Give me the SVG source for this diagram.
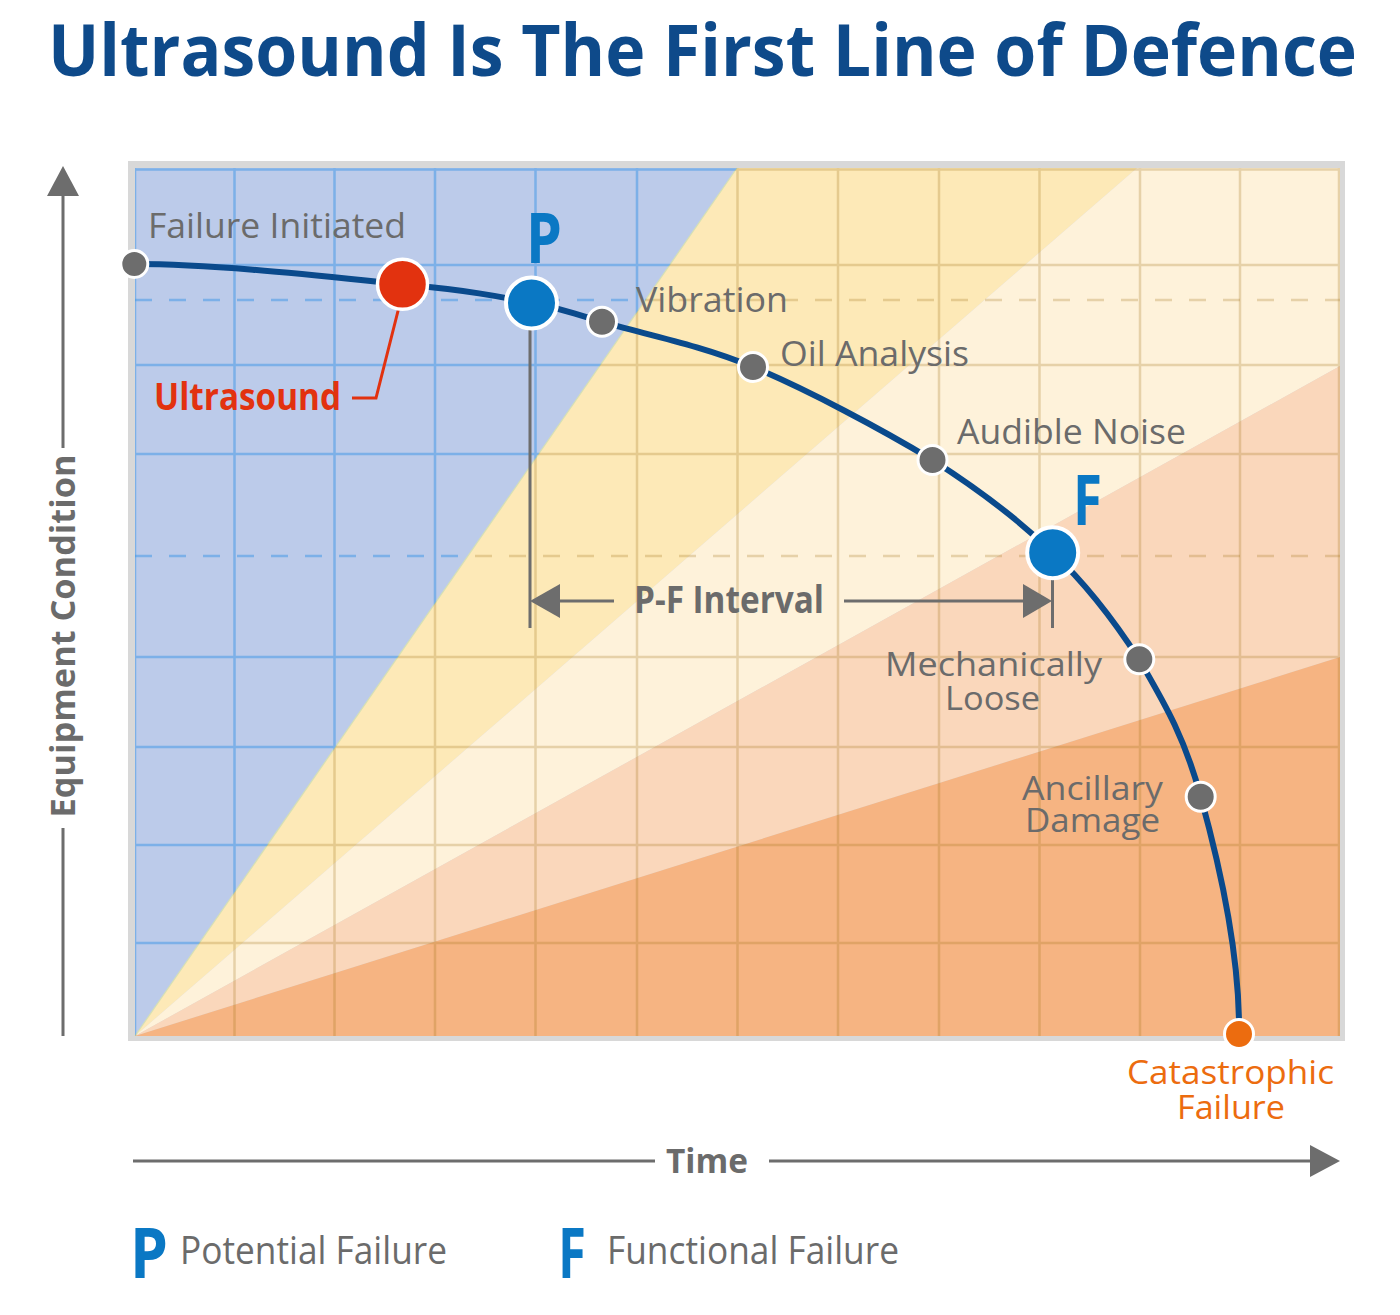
<svg xmlns="http://www.w3.org/2000/svg" xmlns:xlink="http://www.w3.org/1999/xlink" width="1400" height="1315" viewBox="0 0 1400 1315">
<style>
.lbl{font-family:"Open Sans","Noto Sans",sans-serif;font-size:35px;fill:#6b6b6b}
.two{font-size:33px}
.bold{font-family:"Open Sans","Noto Sans",sans-serif;font-weight:700}
.gray{fill:#6b6b6b}
.blue{fill:#0a78c4}
.dot{fill:#6d6d6d;stroke:#fff;stroke-width:3}
.axis{stroke:#6d6d6d;stroke-width:3;fill:none}
</style>
<defs>
<clipPath id="cb"><polygon points="135,168 737,168 135,1036"/></clipPath>
<clipPath id="ct"><polygon points="737,168 1340,168 1340,1036 135,1036"/></clipPath>
<g id="grid">
<path d="M135,168V1036M234.5,168V1036M334.5,168V1036M435,168V1036M535.5,168V1036M637,168V1036M737.5,168V1036M838,168V1036M939,168V1036M1039.5,168V1036M1140,168V1036M1240,168V1036M1339,168V1036M135,169.5H1340M135,265H1340M135,365H1340M135,454H1340M135,657H1340M135,747H1340M135,845H1340M135,943H1340" stroke-width="2.5"/>
<path d="M135,300H1340M135,556H1340" stroke-width="2.5" stroke-dasharray="17 17"/>
</g>
</defs>
<rect width="1400" height="1315" fill="#fff"/>
<text class="bold" x="48" y="76" font-size="71" fill="#0e4a8a" textLength="1309" lengthAdjust="spacingAndGlyphs">Ultrasound Is The First Line of Defence</text>
<g id="chart">
<rect x="128" y="161" width="1217" height="880" fill="#d8d8d8"/>
<polygon points="135,168 737,168 135,1036" fill="#bccbea"/>
<polygon points="737,168 1137,168 135,1036" fill="#fde9b7"/>
<polygon points="1137,168 1340,168 1340,366 135,1036" fill="#fef2da"/>
<polygon points="1340,366 1340,657 135,1036" fill="#fad7bb"/>
<polygon points="1340,657 1340,1036 135,1036" fill="#f6b482"/>
<line x1="135" y1="1036" x2="737" y2="168" stroke="#d6e0b4" stroke-width="1.2"/>
<use xlink:href="#grid" clip-path="url(#cb)" stroke="rgb(60,150,230)" stroke-opacity="0.5"/>
<use xlink:href="#grid" clip-path="url(#ct)" stroke="rgb(160,110,20)" stroke-opacity="0.25"/>
</g>
<g id="axes">
<path class="axis" d="M63,195V448M63,828V1036"/>
<polygon points="63,166 47,196 79,196" fill="#6d6d6d"/>
<text class="bold gray" font-size="34" text-anchor="middle" transform="translate(75,636) rotate(-90)" textLength="363" lengthAdjust="spacingAndGlyphs">Equipment Condition</text>
<path class="axis" d="M133,1161H655M769,1161H1312"/>
<polygon points="1340,1161 1310,1145 1310,1177" fill="#6d6d6d"/>
<text class="bold gray" x="666" y="1173" font-size="34" textLength="82" lengthAdjust="spacingAndGlyphs">Time</text>
</g>
<g id="connectors">
<path d="M134,264 C223,264 336,277.7 402.5,284.3 C468,290.5 498,296 531.5,303 C564,309 564,311 602,321.7 C638,333 698,344 753,367 C808,390 881,429 932.5,460 C981,491 1018,519 1052.7,552.7 C1087,585 1113,619 1139,659.3 C1163,701 1184,735 1200.7,796.7 C1218,859 1240,955 1239,1034" fill="none" stroke="#0a4a8c" stroke-width="6"/>
<path d="M352,398H376L399,307" fill="none" stroke="#e2320f" stroke-width="3"/>
<path class="axis" d="M530,320V628M1052.5,578V628M560,601H614M844,601H1024"/>
<polygon points="530,601 560,584 560,618" fill="#6d6d6d"/>
<polygon points="1052,601 1023,584 1023,618" fill="#6d6d6d"/>
<text class="bold gray" x="634" y="613" font-size="37" textLength="190" lengthAdjust="spacingAndGlyphs">P-F Interval</text>
</g>
<g id="n-start"><circle class="dot" cx="134.3" cy="264" r="13.5"/><text class="lbl" x="148" y="238" textLength="258" lengthAdjust="spacingAndGlyphs">Failure Initiated</text></g>
<g id="n-ultrasound"><circle cx="402.5" cy="284.3" r="25" fill="#e2320f" stroke="#fff" stroke-width="3.5"/><text class="bold" x="154" y="410" font-size="37" fill="#e2320f" textLength="187" lengthAdjust="spacingAndGlyphs">Ultrasound</text></g>
<g id="n-p"><circle cx="531.5" cy="303" r="25.5" fill="#0a78c4" stroke="#fff" stroke-width="4"/><text class="bold blue" x="526" y="263" font-size="70" textLength="36" lengthAdjust="spacingAndGlyphs">P</text></g>
<g id="n-vibration"><circle class="dot" cx="602" cy="321.7" r="14.5"/><text class="lbl" x="636" y="312" textLength="152" lengthAdjust="spacingAndGlyphs">Vibration</text></g>
<g id="n-oil"><circle class="dot" cx="753" cy="367" r="14.5"/><text class="lbl" x="780" y="366" textLength="189" lengthAdjust="spacingAndGlyphs">Oil Analysis</text></g>
<g id="n-audible"><circle class="dot" cx="932.5" cy="460" r="14.5"/><text class="lbl" x="957" y="444" textLength="229" lengthAdjust="spacingAndGlyphs">Audible Noise</text></g>
<g id="n-f"><circle cx="1052.7" cy="552.7" r="25.5" fill="#0a78c4" stroke="#fff" stroke-width="4"/><text class="bold blue" x="1073" y="525" font-size="70" textLength="29" lengthAdjust="spacingAndGlyphs">F</text></g>
<g id="n-mech"><circle class="dot" cx="1139.3" cy="659.3" r="14.5"/><text class="lbl two" x="885" y="676" textLength="217" lengthAdjust="spacingAndGlyphs">Mechanically</text><text class="lbl two" x="945" y="710" textLength="95" lengthAdjust="spacingAndGlyphs">Loose</text></g>
<g id="n-ancillary"><circle class="dot" cx="1200.7" cy="796.7" r="14.5"/><text class="lbl two" x="1022" y="800" textLength="141" lengthAdjust="spacingAndGlyphs">Ancillary</text><text class="lbl two" x="1025" y="832" textLength="135" lengthAdjust="spacingAndGlyphs">Damage</text></g>
<g id="n-catastrophic"><circle cx="1239" cy="1034" r="14.5" fill="#ec6c0f" stroke="#fff" stroke-width="3"/><text class="lbl two" x="1127" y="1084" style="fill:#ec6c0f" textLength="207" lengthAdjust="spacingAndGlyphs">Catastrophic</text><text class="lbl two" x="1177" y="1119" style="fill:#ec6c0f" textLength="108" lengthAdjust="spacingAndGlyphs">Failure</text></g>
<g id="legend">
<text class="bold blue" x="130" y="1278" font-size="70" textLength="38" lengthAdjust="spacingAndGlyphs">P</text>
<text class="lbl" x="180" y="1264" style="font-size:38px" textLength="267" lengthAdjust="spacingAndGlyphs">Potential Failure</text>
<text class="bold blue" x="558" y="1278" font-size="70" textLength="28" lengthAdjust="spacingAndGlyphs">F</text>
<text class="lbl" x="607" y="1264" style="font-size:38px" textLength="292" lengthAdjust="spacingAndGlyphs">Functional Failure</text>
</g>
</svg>
